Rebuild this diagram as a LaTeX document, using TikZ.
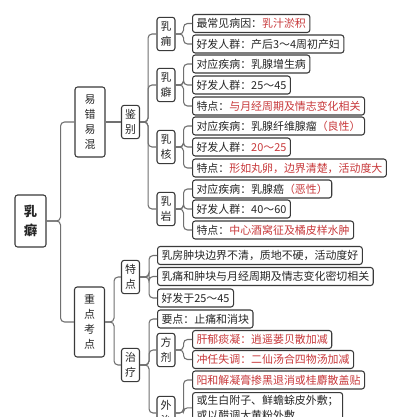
\documentclass[tikz,border=0pt]{standalone}
\usepackage{fontspec}
\setmainfont{Noto Sans CJK SC}
\definecolor{linegray}{HTML}{707070}
\definecolor{boxedge}{HTML}{3A3A3A}
\definecolor{hot}{HTML}{C8393B}
\tikzset{
  box/.style={draw=boxedge, line width=0.8pt, rounded corners=2pt, fill=white,
    text=black!85, font=\fontsize{8.2}{11.25}\selectfont,
    inner xsep=3pt, inner ysep=2pt, minimum height=13.5pt},
  leaf/.style={box, anchor=west},
  vbox/.style={box, align=center, inner xsep=1.5pt, minimum width=13.5pt, minimum height=25pt},
  bigbox/.style={vbox, minimum width=22.5pt, minimum height=52.5pt},
  link/.style={draw=linegray, line width=0.8pt, rounded corners=3pt},
  elbow/.style={to path={-- ++(#1,0) |- (\tikztotarget)}},
}
\newcommand{\hl}[1]{\textcolor{hot}{#1}}

\begin{document}
\begin{tikzpicture}[x=0.75pt,y=-0.75pt]
\clip (0,0) rectangle (400,417);
\fill[white] (0,0) rectangle (400,417);

% root and first level
\node[box, align=center, font=\fontsize{10}{14}\selectfont\bfseries,
  minimum width=23.25pt, minimum height=39pt] (root) at (30.5,221) {乳\\癖};
\node[bigbox] (yicuo) at (90,122) {易\\错\\易\\混};
\node[bigbox] (zhongdian) at (89.5,322) {重\\点\\考\\点};

% 易错易混 branch
\node[vbox] (jianbie) at (130.5,122) {鉴\\别};
\node[vbox] (ruyong) at (166,34) {乳\\痈};
\node[vbox] (rupi) at (166,85) {乳\\癖};
\node[vbox] (ruhe) at (166,147) {乳\\核};
\node[vbox] (ruyan) at (166,209) {乳\\岩};

\node[leaf] (yong1) at (192,23.5) {最常见病因：\hl{乳汁淤积}};
\node[leaf] (yong2) at (192,44) {好发人群：产后3～4周初产妇};
\node[leaf] (pi1) at (192,64) {对应疾病：乳腺增生病};
\node[leaf] (pi2) at (192,85) {好发人群：25～45};
\node[leaf] (pi3) at (192,106) {特点：\hl{与月经周期及情志变化相关}};
\node[leaf] (he1) at (192,126) {对应疾病：乳腺纤维腺瘤\hl{（良性）}};
\node[leaf] (he2) at (192,147) {好发人群：\hl{20～25}};
\node[leaf] (he3) at (192,168) {特点：\hl{形如丸卵，边界清楚，活动度大}};
\node[leaf] (yan1) at (192,189) {对应疾病：乳腺癌\hl{（恶性）}};
\node[leaf] (yan2) at (192,209) {好发人群：40～60};
\node[leaf] (yan3) at (192,230) {特点：\hl{中心酒窝征及橘皮样水肿}};

% 重点考点 branch
\node[vbox] (tedian) at (130.5,277) {特\\点};
\node[vbox] (zhiliao) at (130.5,365) {治\\疗};
\node[leaf] (te1) at (157,255.5) {乳房肿块边界不清，质地不硬，活动度好};
\node[leaf] (te2) at (157,276.5) {乳痛和肿块与月经周期及情志变化密切相关};
\node[leaf] (te3) at (157,298) {好发于25～45};
\node[leaf] (yaodian) at (157,319) {要点：止痛和消块};
\node[vbox] (fangji) at (166,350) {方\\剂};
\node[vbox] (waizhi) at (166,413) {外\\治};
\node[leaf] (fang1) at (192,339.5) {\hl{肝郁痰凝：逍遥蒌贝散加减}};
\node[leaf] (fang2) at (192,359.5) {\hl{冲任失调：二仙汤合四物汤加减}};
\node[leaf] (wai1) at (192,380) {\hl{阳和解凝膏掺黑退消或桂麝散盖贴}};
\node[box, anchor=north west, align=left] (wai2) at (192,392)
  {或生白附子、鲜蟾蜍皮外敷；\\或以醋调大黄粉外敷};

% connectors
\foreach \c in {yicuo,zhongdian} \draw[link] (root.east) to[elbow=14] (\c.west);
\draw[link] (yicuo.east) -- (jianbie.west);
\foreach \c in {ruyong,rupi,ruhe,ruyan} \draw[link] (jianbie.east) to[elbow=8] (\c.west);
\foreach \c in {yong1,yong2} \draw[link] (ruyong.east) to[elbow=8] (\c.west);
\foreach \c in {pi1,pi2,pi3} \draw[link] (rupi.east) to[elbow=8] (\c.west);
\foreach \c in {he1,he2,he3} \draw[link] (ruhe.east) to[elbow=8] (\c.west);
\foreach \c in {yan1,yan2,yan3} \draw[link] (ruyan.east) to[elbow=8] (\c.west);
\foreach \c in {tedian,zhiliao} \draw[link] (zhongdian.east) to[elbow=9] (\c.west);
\foreach \c in {te1,te2,te3} \draw[link] (tedian.east) to[elbow=9] (\c.west);
\foreach \c in {yaodian,fangji,waizhi} \draw[link] (zhiliao.east) to[elbow=9] (\c.west);
\foreach \c in {fang1,fang2} \draw[link] (fangji.east) to[elbow=8] (\c.west);
\foreach \c in {wai1,wai2} \draw[link] (waizhi.east) to[elbow=8] (\c.west);
\end{tikzpicture}
\end{document}
